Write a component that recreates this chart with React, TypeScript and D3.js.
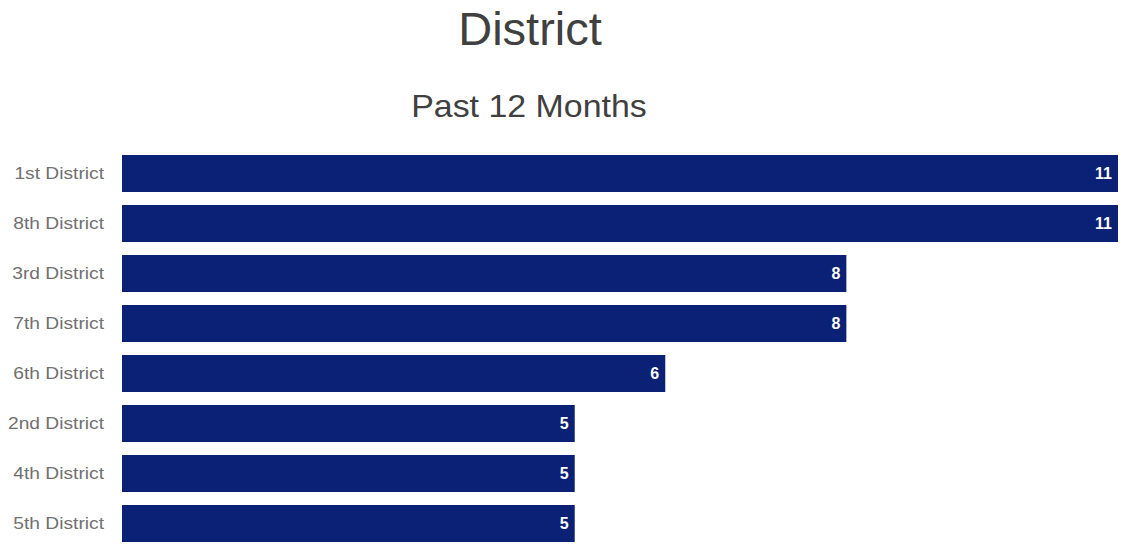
import React from "react";
import * as d3 from "d3";

const categories: string[] = [
  "1st District",
  "8th District",
  "3rd District",
  "7th District",
  "6th District",
  "2nd District",
  "4th District",
  "5th District",
];
const values: number[] = [11, 11, 8, 8, 6, 5, 5, 5];
const titleText = "District";
const subtitleText = "Past 12 Months";

const W = 1128;
const H = 550;

export default function App() {
  const x = d3.scaleLinear().domain([0, 11]).range([122, 1118]);
  const y = d3
    .scaleBand<string>()
    .domain(categories)
    .range([148.5, 548.5])
    .paddingInner(0.26)
    .paddingOuter(0.13);

  const font = "'Liberation Sans', Arial, sans-serif";

  return (
    <svg
      width={W}
      height={H}
      style={{ position: "absolute", left: 0, top: 0, background: "#fff" }}
      fontFamily={font}
    >
      <text x={530} y={45} textAnchor="middle" fontSize={47} fill="#404040">
        {titleText}
      </text>
      <text
        transform="translate(529,117) scale(1.06,1)"
        textAnchor="middle"
        fontSize={32}
        fill="#404040"
      >
        {subtitleText}
      </text>
      {categories.map((c, i) => {
        const yy = y(c)!;
        const bw = y.bandwidth();
        return (
          <g key={c}>
            <rect
              x={x(0)}
              y={yy}
              width={x(values[i]) - x(0)}
              height={bw}
              fill="#0a2175"
            />
            <text
              transform={`translate(104,${yy + bw / 2}) scale(1.13,1)`}
              dy="0.35em"
              textAnchor="end"
              fontSize={17}
              fill="#707070"
            >
              {c}
            </text>
            <text
              x={x(values[i]) - 6}
              y={yy + bw / 2}
              dy="0.35em"
              textAnchor="end"
              fontSize={16}
              fontWeight="bold"
              fill="#ffffff"
            >
              {values[i]}
            </text>
          </g>
        );
      })}
    </svg>
  );
}
